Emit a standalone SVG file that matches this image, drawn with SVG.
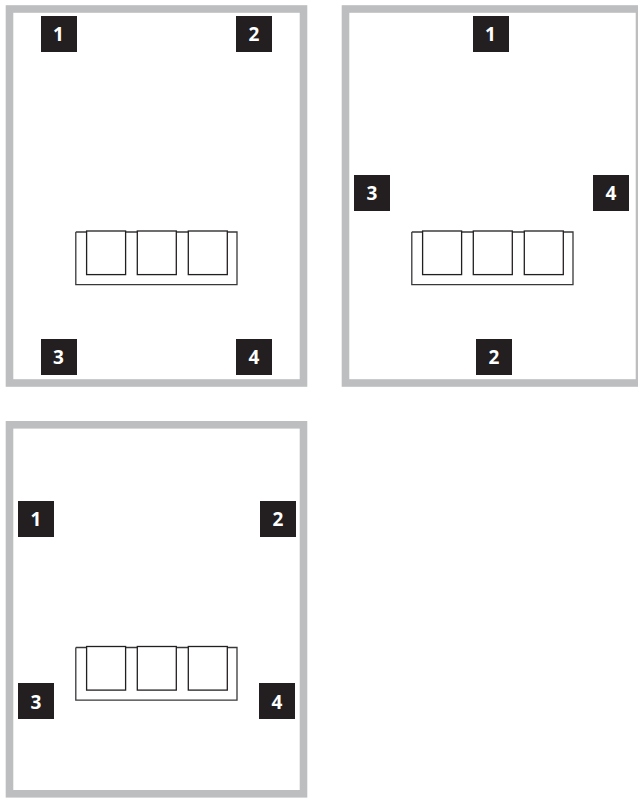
<svg xmlns="http://www.w3.org/2000/svg" width="638" height="798" viewBox="0 0 638 798">
<style>
.frame{fill:#fff;stroke:#bcbec0;stroke-width:7.6}
.badge{fill:#231f20}
.num{fill:#fff;font-family:"Open Sans","Noto Sans",sans-serif;font-weight:700;font-size:19px;text-anchor:middle}
.tray{fill:none;stroke:#38383a;stroke-width:1.3}
.slot{fill:#fff;stroke:#231f20;stroke-width:1.3}
</style>
<defs>
<g id="unit">
<path class="tray" d="M75.8 232V284.7H237V232H75.8"/>
<rect class="slot" x="86.6" y="231" width="39" height="43.6"/>
<rect class="slot" x="137.3" y="231" width="39" height="43.6"/>
<rect class="slot" x="188.3" y="231" width="39" height="43.6"/>
</g>
</defs>
<rect width="638" height="798" fill="#fff"/>
<g id="panel-a">
<rect class="frame" x="9.5" y="9" width="294" height="374"/>
<use href="#unit"/>
<g id="a1"><rect class="badge" x="41" y="16" width="36" height="36"/><text class="num" x="58.5" y="41">1</text></g>
<g id="a2"><rect class="badge" x="236" y="16" width="36" height="36"/><text class="num" x="254" y="41">2</text></g>
<g id="a3"><rect class="badge" x="41" y="339" width="36" height="36"/><text class="num" x="58.5" y="364">3</text></g>
<g id="a4"><rect class="badge" x="236" y="339" width="36" height="36"/><text class="num" x="254" y="364">4</text></g>
</g>
<g id="panel-b">
<rect class="frame" x="345.5" y="9" width="294" height="374"/>
<use href="#unit" x="336"/>
<g id="b1"><rect class="badge" x="473" y="16" width="36" height="36"/><text class="num" x="490.5" y="41">1</text></g>
<g id="b3"><rect class="badge" x="354" y="175" width="36" height="36"/><text class="num" x="372" y="200">3</text></g>
<g id="b4"><rect class="badge" x="593" y="175" width="36" height="36"/><text class="num" x="611" y="200">4</text></g>
<g id="b2"><rect class="badge" x="476" y="339" width="36" height="36"/><text class="num" x="494" y="364">2</text></g>
</g>
<g id="panel-c">
<rect class="frame" x="9.5" y="424.8" width="294" height="369"/>
<use href="#unit" y="415.5"/>
<g id="c1"><rect class="badge" x="18" y="501" width="36" height="36"/><text class="num" x="36" y="526">1</text></g>
<g id="c2"><rect class="badge" x="260" y="501" width="36" height="36"/><text class="num" x="278" y="526">2</text></g>
<g id="c3"><rect class="badge" x="18" y="683" width="36" height="36"/><text class="num" x="36" y="708.5">3</text></g>
<g id="c4"><rect class="badge" x="259" y="683" width="36" height="36"/><text class="num" x="277" y="709">4</text></g>
</g>
<g id="connectors"></g>
</svg>
